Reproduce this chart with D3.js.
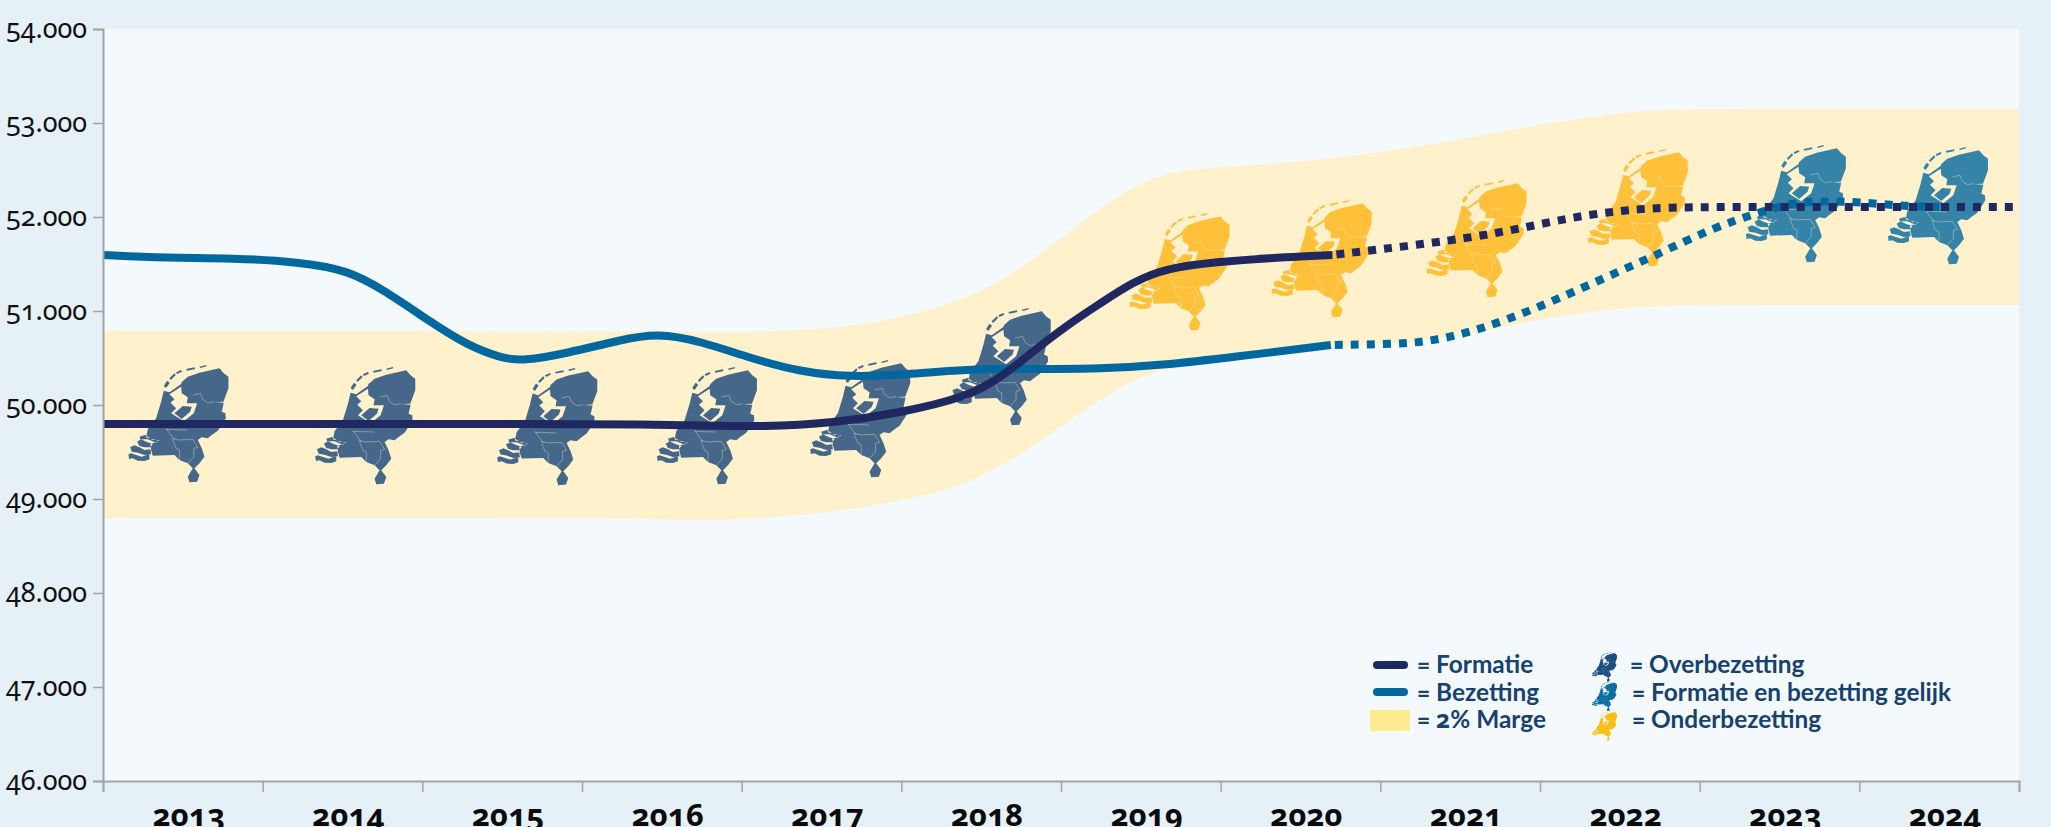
<!DOCTYPE html>
<html><head><meta charset="utf-8">
<script src="https://d3js.org/d3.v7.min.js"></script>
<style>
html,body{margin:0;padding:0;background:#E5F0F7;overflow:hidden}
svg{display:block}
text{font-family:Lato,sans-serif;font-variant-numeric:oldstyle-nums}
.num,tspan.num{font-family:"Noto Sans","Open Sans",sans-serif;font-variant-numeric:oldstyle-nums;font-feature-settings:"onum" 1}
</style></head><body><svg id="c" width="2051" height="827"></svg>
<script>
// ---------- data (years are decimal positions along the time axis) ----------
const years = [2013,2014,2015,2016,2017,2018,2019,2020,2021,2022,2023,2024];
const yTicks = [46000,47000,48000,49000,50000,51000,52000,53000,54000];

const formatieYears  = [2013,2016.11,2016.63,2017.16,2017.57,2017.99,2018.41,2018.62,2018.82,2019.04,2019.24,2019.45,2019.66,2019.98,2020.29,2020.70];
const formatieValues = [49798,49800,49787,49766,49809,49915,50085,50287,50564,50851,51074,51309,51457,51521,51564,51596];
const formatieProjYears  = [2020.70,2021.33,2021.75,2022.17,2022.48,2022.77,2023.36,2025];
const formatieProjValues = [51596,51723,51830,51989,52064,52106,52106,52106];

const bezettingYears  = [2013,2013.40,2013.81,2014.23,2014.53,2014.75,2015.07,2015.28,2015.49,2015.63,2015.91,2016.24,2016.47,2016.74,2017.05,2017.37,2017.68,2017.99,2018.41,2018.82,2019.24,2019.66,2020.08,2020.69];
const bezettingValues = [51596,51564,51564,51521,51436,51234,50862,50638,50500,50465,50553,50692,50765,50681,50500,50351,50298,50319,50383,50383,50383,50426,50511,50638];
const bezettingProjYears  = [2020.69,2021.12,2021.33,2021.62,2022.00,2022.36,2022.73,2023.08,2023.38,2023.57,2023.77,2023.99,2024.27,2024.50];
const bezettingProjValues = [50638,50649,50681,50798,51043,51319,51596,51883,52053,52149,52170,52160,52117,52106];

const margeUpperYears  = [2013,2016.11,2017.26,2017.78,2018.20,2018.51,2018.72,2018.91,2019.24,2019.45,2019.66,2019.87,2020.50,2021.33,2021.96,2022.50,2022.73,2023.05,2025];
const margeUpperValues = [50787,50787,50766,50851,51011,51202,51436,51649,52096,52319,52468,52521,52574,52766,52979,53106,53138,53149,53149];
const margeLowerYears  = [2013,2016.11,2016.43,2016.95,2017.57,2018.20,2018.51,2018.82,2019.14,2019.45,2019.66,2020.08,2020.58,2021.12,2021.64,2021.96,2022.50,2022.73,2023.05,2025];
const margeLowerValues = [48798,48798,48787,48766,48851,49043,49234,49553,49947,50266,50404,50500,50606,50638,50777,50904,51032,51053,51064,51064];

const mapYears  = [2013.46,2014.63,2015.77,2016.77,2017.73,2018.61,2019.73,2020.62,2021.59,2022.60,2023.59,2024.48];
const mapValues = [49840,49819,49809,49819,49894,50447,51457,51596,51809,52138,52181,52160];
const mapStatus = ["over","over","over","over","over","over","onder","onder","onder","onder","gelijk","gelijk"];

const legendLines = ["= Formatie","= Bezetting","= 2% Marge"];
const legendMaps  = ["= Overbezetting","= Formatie en bezetting gelijk","= Onderbezetting"];

// ---------- the map glyph, in its own 330x390 symbol units ----------
const glyphLand = "M118,92L135,97L170,72L172,66L190,50L225,38L285,25L298,40L312,50L312,85L297,125L270,126L298,128L292,155L303,160L304,175L295,190L280,212L262,225L250,235L232,232L220,240L232,265L240,290L225,310L210,325L225,345L218,365L195,367L190,350L205,325L190,310L165,300L150,285L85,287L80,270L78,252L105,242L85,238L65,232L70,208L95,175L110,125Z";
const glyphWater = "M135,103L170,80L172,100L190,112L187,130L218,130L208,160L178,184L140,160L155,145L138,128L150,118Z";
const glyphPolder = "M150,160L175,138L202,140L197,155L172,177Z";
const glyphIslands = "M12,283L20,280L35,285L52,290L75,282L75,298L60,303L40,302L25,295L14,297Z M17,262L30,256L45,262L60,270L78,268L80,283L60,285L40,278L22,275Z M38,245L50,238L65,245L85,252L78,262L60,262L45,258Z M45,230L62,225L85,240L105,240L95,248L70,238L48,238Z M118,78L128,62L136,68L125,84Z M135,55L150,40L154,45L139,60Z M155,37L170,30L173,35L158,42Z M185,27L210,22L212,27L188,32Z M225,20L245,15L246,19L228,24Z";
const glyphBorders = "M205,105L228,100L235,118L250,128L270,125M125,208L188,210M142,235L165,240L205,238L220,262L208,265L208,290L190,310M145,240L155,265L165,270L165,300M150,240L125,205";

const mapColor = {over:"#45678A", gelijk:"#3683A8", onder:"#FFC13A"};
const legendMapColor = ["#1F4E80","#0A6FA3","#FFBE14"];

// ---------- scales ----------
const svg = d3.select("#c");
const x = d3.scaleLinear().domain([2013,2025]).range([103,2019]);
const y = d3.scaleLinear().domain([46000,54000]).range([781,29]);
const nl = d3.formatLocale({decimal:",",thousands:".",grouping:[3],currency:["€",""]});

svg.append("rect").attr("x",x(2013)).attr("y",y(54000))
  .attr("width",x(2025)-x(2013)).attr("height",y(46000)-y(54000)).attr("fill","#F4F9FD");

// ---------- band ----------
const smooth = d3.curveBasis;
const up = d3.line().curve(smooth)(margeUpperYears.map((d,i)=>[x(d),y(margeUpperValues[i])]));
const lo = d3.line().curve(smooth)(margeLowerYears.map((d,i)=>[x(d),y(margeLowerValues[i])]).reverse());
svg.append("path").attr("d",up+"L"+lo.slice(1)+"Z").attr("fill","#FEF1CB");

// ---------- map glyphs ----------
function glyph(g, color, bg, borderOpacity){
  g.append("path").attr("d",glyphLand+glyphWater+glyphPolder+glyphIslands)
    .attr("fill",color).attr("fill-rule","evenodd");
  g.append("path").attr("d",glyphBorders).attr("fill","none").attr("stroke",bg)
    .attr("stroke-opacity",borderOpacity).attr("stroke-width",2);
}
mapYears.forEach((yr,i)=>{
  const g = svg.append("g")
    .attr("transform",`translate(${x(yr)},${y(mapValues[i])}) scale(${1/3}) translate(-156,-180)`);
  glyph(g,mapColor[mapStatus[i]],"#FEF1CB",0.55);
});

// ---------- lines ----------
function series(xs,vs,color,dashed){
  const p = svg.append("path")
    .attr("d",d3.line().curve(smooth).x(d=>x(d[0])).y(d=>y(d[1]))(xs.map((d,i)=>[d,vs[i]])))
    .attr("fill","none").attr("stroke",color).attr("stroke-width",8);
  if(dashed) p.attr("stroke-dasharray","8 8").attr("stroke-dashoffset",-4);
}
series(bezettingYears,bezettingValues,"#00689E",false);
series(bezettingProjYears,bezettingProjValues,"#00689E",true);
series(formatieYears,formatieValues,"#1F2860",false);
series(formatieProjYears,formatieProjValues,"#1F2860",true);

// ---------- axes ----------
const axisColor = "#A2A5A8";
const ya = svg.append("g").attr("transform",`translate(${x(2013)},0)`)
  .call(d3.axisLeft(y).tickValues(yTicks).tickSize(10).tickPadding(7).tickFormat(nl.format(",")));
ya.select(".domain").attr("stroke",axisColor).attr("stroke-width",2);
ya.selectAll(".tick line").attr("stroke",axisColor).attr("stroke-width",1.5);
ya.attr("font-family",null);
ya.selectAll(".tick text").attr("class","num").attr("font-size",27).attr("fill","#111").attr("text-anchor","start").attr("x",-97);

const xa = svg.append("g").attr("transform",`translate(0,${y(46000)})`)
  .call(d3.axisBottom(x).tickValues(d3.range(2013,2026)).tickSize(11).tickFormat(""));
xa.select(".domain").attr("stroke",axisColor).attr("stroke-width",2);
xa.selectAll(".tick line").attr("stroke",axisColor).attr("stroke-width",1.5);

svg.append("g").selectAll("text").data(years).join("text").attr("class","num")
  .attr("x",d=>x(d+0.5)+6).attr("y",826).attr("text-anchor","middle")
  .attr("font-size",31).attr("font-weight",700).attr("fill","#0b0b0b").text(d=>d);

// ---------- legend ----------
const lt = "#17426F";
const rows = [673,701,728];
[["#1F2860"],["#00689E"]].forEach((c,i)=>{
  svg.append("line").attr("x1",1377).attr("x2",1404).attr("y1",665+27*i).attr("y2",665+27*i)
    .attr("stroke",c[0]).attr("stroke-width",8).attr("stroke-linecap","round");
});
svg.append("rect").attr("x",1370).attr("y",710).attr("width",40).attr("height",21).attr("fill","#FFEC90");
legendLines.forEach((t,i)=>{
  const e = svg.append("text").attr("x",1417).attr("y",rows[i])
    .attr("font-size",24.4).attr("font-weight",700).attr("fill",lt);
  t.split(/(\d)/).forEach(part=>{ if(part) e.append("tspan").attr("class",/\d/.test(part)?"num":null).text(part); });
});
legendMaps.forEach((t,i)=>{
  svg.append("text").attr("x",i?1632:1630).attr("y",rows[i])
    .attr("font-size",24.4).attr("font-weight",700).attr("fill",lt).text(t);
  const g = svg.append("g").attr("transform",`translate(1591,${651+29.5*i}) scale(${1/12})`);
  glyph(g,legendMapColor[i],"#F4F9FD",0.6);
});
</script></body></html>
